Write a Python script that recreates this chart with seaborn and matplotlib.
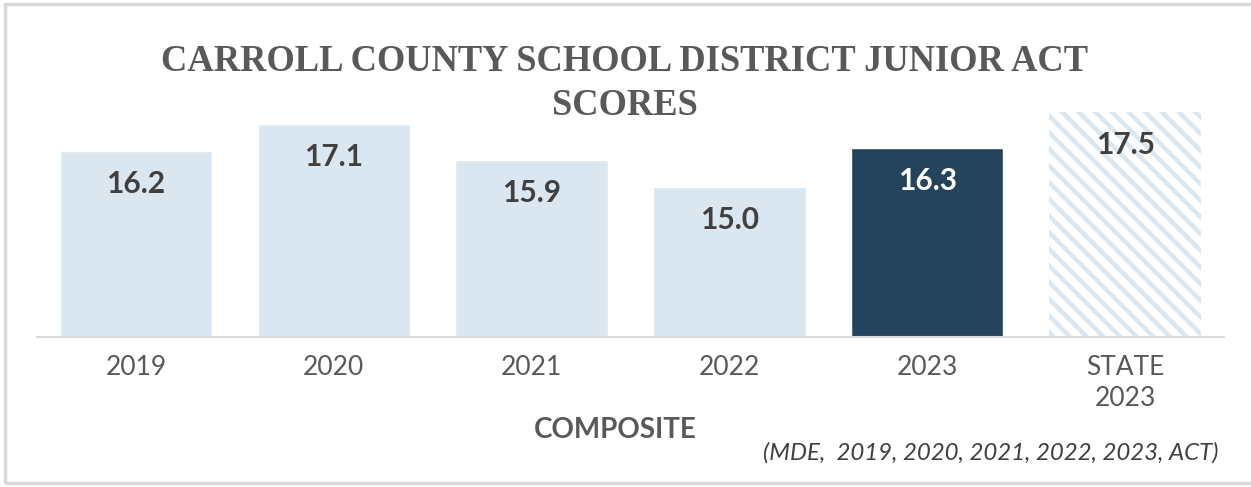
import matplotlib
matplotlib.use("Agg")
import matplotlib.pyplot as plt
import seaborn as sns
import pandas as pd
from matplotlib.patches import Rectangle

categories = ["2019", "2020", "2021", "2022", "2023", "STATE\n2023"]
scores = [16.2, 17.1, 15.9, 15.0, 16.3, 17.5]
bar_colors = ["#DAE7F0", "#DAE7F0", "#DAE7F0", "#DAE7F0", "#23445C", "#FFFFFF"]
label_colors = ["#404040", "#404040", "#404040", "#404040", "#FFFFFF", "#404040"]
title = "CARROLL COUNTY SCHOOL DISTRICT JUNIOR ACT\nSCORES"
xlabel = "COMPOSITE"
source = "(MDE,  2019, 2020, 2021, 2022, 2023, ACT)"

sns.set_theme(style="white")
plt.rcParams["font.family"] = ["Lato", "DejaVu Sans"]
plt.rcParams["hatch.linewidth"] = 3.2

df = pd.DataFrame({"cat": categories, "score": scores})

fig = plt.figure(figsize=(12.51, 4.87), dpi=100)
ax = fig.add_axes([0.0296, 0.308, 0.9488, 0.493])

sns.barplot(data=df, x="cat", y="score", hue="cat", palette=bar_colors,
            width=0.77, legend=False, ax=ax, saturation=1)

# hatch state bar
state_patch = ax.patches[-1]
state_patch.set_facecolor("#FFFFFF")
state_patch.set_edgecolor("#DAE7F0")
state_patch.set_hatch("\\\\")
state_patch.set_linewidth(0)

ax.set_ylim(10, 18)
ax.set_yticks([])
ax.set_ylabel("")
ax.set_xlabel("")
for s in ["top", "left", "right"]:
    ax.spines[s].set_visible(False)
ax.spines["bottom"].set_color("#D9D9D9")
ax.spines["bottom"].set_linewidth(1.5)
ax.tick_params(axis="x", length=0, pad=13, labelsize=19, labelcolor="#595959")
for t in ax.get_xticklabels():
    t.set_fontweight("normal")
    t.set_linespacing(1.3)

for i, (v, c) in enumerate(zip(scores, label_colors)):
    ax.annotate(f"{v:.1f}", xy=(i, v), xytext=(0, -33), textcoords="offset pixels",
                ha="center", va="center", fontsize=21.5, fontweight="bold", color=c)

fig.text(0.4995, 0.828, title, ha="center", va="center", fontsize=26.3,
         fontweight="bold", color="#595959", family="Liberation Serif", linespacing=1.35)
fig.text(0.4915, 0.117, xlabel, ha="center", va="center", fontsize=20,
         fontweight="bold", color="#595959")
fig.text(0.974, 0.07, source, ha="right", va="center", fontsize=17.3,
         style="italic", color="#404040")

fig.add_artist(Rectangle((5 / 1251, 4 / 487), 1.1, 479 / 487, transform=fig.transFigure,
                         fill=False, edgecolor="#D9D9D9", linewidth=2.5))

fig.savefig("out.png", dpi=100)
